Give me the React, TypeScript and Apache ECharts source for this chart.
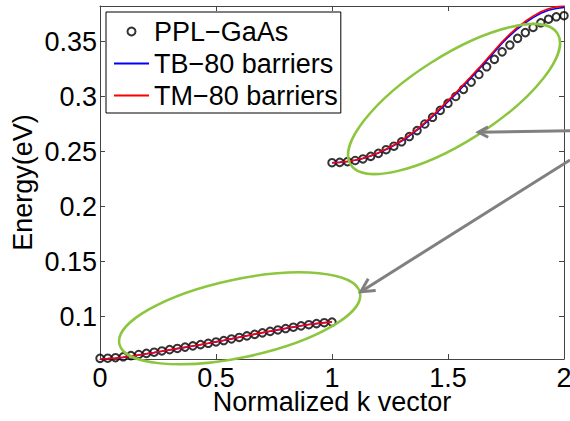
import React, { useEffect, useRef } from "react";
import * as echarts from "echarts";

// ---- data ----
const K_LOWER = [0, 0.0333, 0.0667, 0.1, 0.1333, 0.1667, 0.2, 0.2333, 0.2667, 0.3, 0.3333, 0.3667, 0.4, 0.4333, 0.4667, 0.5, 0.5333, 0.5667, 0.6, 0.6333, 0.6667, 0.7, 0.7333, 0.7667, 0.8, 0.8333, 0.8667, 0.9, 0.9333, 0.9667, 1.0];
const K_UPPER = [1.0, 1.0333, 1.0667, 1.1, 1.1333, 1.1667, 1.2, 1.2333, 1.2667, 1.3, 1.3333, 1.3667, 1.4, 1.4333, 1.4667, 1.5, 1.5333, 1.5667, 1.6, 1.6333, 1.6667, 1.7, 1.7333, 1.7667, 1.8, 1.8333, 1.8667, 1.9, 1.9333, 1.9667, 2.0];

const PPL_LOWER = [0.0621, 0.0622, 0.0627, 0.0635, 0.0646, 0.0656, 0.0666, 0.0677, 0.0688, 0.0700, 0.0711, 0.0723, 0.0734, 0.0746, 0.0758, 0.0770, 0.0783, 0.0797, 0.0811, 0.0825, 0.0839, 0.0853, 0.0866, 0.0879, 0.0892, 0.0904, 0.0916, 0.0927, 0.0937, 0.0945, 0.0951];
const PPL_UPPER = [0.2400, 0.2403, 0.2410, 0.2420, 0.2434, 0.2458, 0.2485, 0.2518, 0.2550, 0.2590, 0.2638, 0.2692, 0.2752, 0.2813, 0.2876, 0.2940, 0.3002, 0.3067, 0.3133, 0.3202, 0.3272, 0.3340, 0.3408, 0.3470, 0.3531, 0.3583, 0.3630, 0.3672, 0.3705, 0.3727, 0.3737];

const TB_LOWER = [0.0616, 0.0618, 0.0622, 0.0630, 0.0640, 0.0651, 0.0662, 0.0673, 0.0685, 0.0697, 0.0709, 0.0721, 0.0733, 0.0745, 0.0758, 0.0771, 0.0784, 0.0798, 0.0812, 0.0826, 0.0840, 0.0854, 0.0867, 0.0880, 0.0893, 0.0905, 0.0917, 0.0928, 0.0937, 0.0945, 0.0952];
const TB_UPPER = [0.2400, 0.2403, 0.2411, 0.2423, 0.2439, 0.2461, 0.2488, 0.2520, 0.2556, 0.2596, 0.2643, 0.2696, 0.2755, 0.2818, 0.2885, 0.2954, 0.3024, 0.3098, 0.3174, 0.3250, 0.3327, 0.3407, 0.3486, 0.3556, 0.3618, 0.3672, 0.3719, 0.3759, 0.3786, 0.3803, 0.3811];

const TM_LOWER = [0.0616, 0.0618, 0.0623, 0.0631, 0.0641, 0.0652, 0.0663, 0.0674, 0.0686, 0.0698, 0.0710, 0.0722, 0.0734, 0.0746, 0.0759, 0.0772, 0.0785, 0.0799, 0.0813, 0.0827, 0.0841, 0.0855, 0.0868, 0.0881, 0.0894, 0.0906, 0.0918, 0.0929, 0.0938, 0.0946, 0.0953];
const TM_UPPER = [0.2400, 0.2404, 0.2412, 0.2424, 0.2441, 0.2463, 0.2491, 0.2524, 0.2561, 0.2602, 0.2650, 0.2704, 0.2764, 0.2828, 0.2896, 0.2965, 0.3035, 0.3110, 0.3186, 0.3262, 0.3340, 0.3420, 0.3500, 0.3570, 0.3632, 0.3686, 0.3733, 0.3773, 0.3800, 0.3817, 0.3825];

const X_TICKS = [0, 0.5, 1, 1.5, 2];
const Y_TICKS = [0.1, 0.15, 0.2, 0.25, 0.3, 0.35];
const Y_MIN = 0.0615;
const Y_MAX = 0.3825;

const NAME_PPL = "PPL\u2212GaAs";
const NAME_TB = "TB\u221280 barriers";
const NAME_TM = "TM\u221280 barriers";

// annotation anchors (data coordinates)
const LOWER_ELLIPSE = { k: 0.602, e: 0.0985, rx: 123, ry: 39, angleDeg: 12 };
const UPPER_ELLIPSE = { k: 1.526, e: 0.2979, rx: 122.5, ry: 43, angleDeg: 32.4 };
const ARROWS = [
  { from: [2.026, 0.2691], to: [1.631, 0.2677], head: 11 },
  { from: [2.026, 0.2425], to: [1.124, 0.1227], head: 15 },
];

const FONT = "'Liberation Sans', Arial, Helvetica, sans-serif";
const FS = 27;
const AXIS = "#444";
const GREEN = "#8cc63f";
const GRAY = "#808080";
const LINE_ICON = "path://M0 0h35v2h-35z";

const pairs = (ks: number[], vs: number[]) => ks.map((k, i) => [k, vs[i]]);

export default function App() {
  const ref = useRef<HTMLDivElement>(null);

  useEffect(() => {
    document.body.style.margin = "0";
    const chart = echarts.init(ref.current!, null, { renderer: "svg" });

    const axisCommon = {
      axisLine: { show: true, onZero: false, lineStyle: { color: AXIS, width: 1 } },
      axisTick: { show: true, inside: true, length: 5, lineStyle: { color: AXIS, width: 1 } },
      splitLine: { show: false },
    };

    const lineSeries = (name: string, data: number[][], color: string) => ({
      type: "line",
      name,
      data,
      symbol: "none",
      showSymbol: false,
      color,
      lineStyle: { color, width: 1.6 },
      emphasis: { disabled: true },
    });

    chart.setOption({
      animation: false,
      grid: { left: 100, right: 6, top: 6, bottom: 62, containLabel: false, outerBoundsMode: "none" },
      legend: {
        orient: "vertical",
        left: 106,
        top: 12,
        padding: [6, 3, 4, 8],
        itemWidth: 35,
        itemHeight: 8,
        itemGap: 5,
        borderColor: "#000",
        borderWidth: 1,
        backgroundColor: "#fff",
        textStyle: { fontSize: FS, color: "#000", fontFamily: FONT },
        data: [
          { name: NAME_PPL, icon: "circle", itemStyle: { color: "rgba(0,0,0,0)", borderColor: "#000", borderWidth: 2 } },
          { name: NAME_TB, icon: LINE_ICON, itemStyle: { color: "#0000ff", borderWidth: 0 } },
          { name: NAME_TM, icon: LINE_ICON, itemStyle: { color: "#ff0000", borderWidth: 0 } },
        ],
      },
      xAxis: [
        {
          type: "value",
          min: 0,
          max: 2,
          interval: 0.5,
          position: "bottom",
          name: "Normalized k vector",
          nameLocation: "middle",
          nameGap: 32,
          nameMoveOverlap: false,
          nameTextStyle: { fontSize: FS, lineHeight: 21, color: "#000", fontFamily: FONT },
          ...axisCommon,
          axisLabel: { fontSize: FS, lineHeight: 21, color: "#000", fontFamily: FONT, margin: 8.5, customValues: X_TICKS },
        },
        {
          type: "value",
          min: 0,
          max: 2,
          interval: 0.5,
          position: "top",
          ...axisCommon,
          axisLabel: { show: false },
        },
      ],
      yAxis: [
        {
          type: "value",
          min: Y_MIN,
          max: Y_MAX,
          position: "left",
          name: "Energy(eV)",
          nameLocation: "middle",
          nameGap: 64,
          nameRotate: 90,
          nameMoveOverlap: false,
          nameTextStyle: { fontSize: FS, color: "#000", fontFamily: FONT },
          ...axisCommon,
          axisTick: { ...axisCommon.axisTick, customValues: Y_TICKS },
          axisLabel: { fontSize: FS, color: "#000", fontFamily: FONT, margin: 3, customValues: Y_TICKS },
        },
        {
          type: "value",
          min: Y_MIN,
          max: Y_MAX,
          position: "right",
          ...axisCommon,
          axisTick: { ...axisCommon.axisTick, customValues: Y_TICKS },
          axisLabel: { show: false },
        },
      ],
      series: [
        {
          type: "scatter",
          name: NAME_PPL,
          data: [...pairs(K_LOWER, PPL_LOWER), ...pairs(K_UPPER, PPL_UPPER)],
          symbol: "circle",
          symbolSize: 7.5,
          itemStyle: { color: "rgba(0,0,0,0)", borderColor: "#000", borderWidth: 2 },
          emphasis: { disabled: true },
        },
        lineSeries(NAME_TB, pairs(K_LOWER, TB_LOWER), "#0000ff"),
        lineSeries(NAME_TB, pairs(K_UPPER, TB_UPPER), "#0000ff"),
        lineSeries(NAME_TM, pairs(K_LOWER, TM_LOWER), "#ff0000"),
        lineSeries(NAME_TM, pairs(K_UPPER, TM_UPPER), "#ff0000"),
      ],
    });

    const px = (k: number, e: number) => chart.convertToPixel({ seriesIndex: 0 }, [k, e]) as number[];

    const ellipse = (el: typeof LOWER_ELLIPSE) => {
      const c = px(el.k, el.e);
      return {
        type: "ellipse",
        x: c[0],
        y: c[1],
        rotation: (el.angleDeg * Math.PI) / 180,
        shape: { cx: 0, cy: 0, rx: el.rx, ry: el.ry },
        style: { fill: "none", stroke: GREEN, lineWidth: 2.5 },
        silent: true,
        z: 100,
      };
    };

    const arrowEls: any[] = [];
    ARROWS.forEach((a) => {
      const p0 = px(a.from[0], a.from[1]);
      const p1 = px(a.to[0], a.to[1]);
      const ang = Math.atan2(p0[1] - p1[1], p0[0] - p1[0]);
      const spread = (28 * Math.PI) / 180;
      const h1 = [p1[0] + a.head * Math.cos(ang + spread), p1[1] + a.head * Math.sin(ang + spread)];
      const h2 = [p1[0] + a.head * Math.cos(ang - spread), p1[1] + a.head * Math.sin(ang - spread)];
      arrowEls.push({
        type: "polyline",
        shape: { points: [p0, p1] },
        style: { stroke: GRAY, lineWidth: 3, fill: "none" },
        silent: true,
        z: 100,
      });
      arrowEls.push({
        type: "polyline",
        shape: { points: [h1, p1, h2] },
        style: { stroke: GRAY, lineWidth: 3, fill: "none" },
        silent: true,
        z: 100,
      });
    });

    chart.setOption({
      graphic: [ellipse(LOWER_ELLIPSE), ellipse(UPPER_ELLIPSE), ...arrowEls],
    });

    return () => chart.dispose();
  }, []);

  return <div ref={ref} style={{ position: "absolute", left: 0, top: 0, width: 570, height: 421 }} />;
}
